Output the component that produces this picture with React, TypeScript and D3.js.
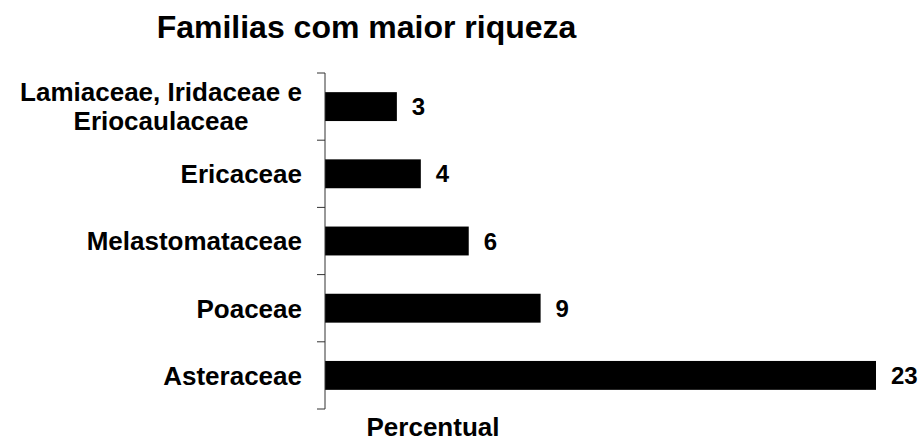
import React from "react";
import * as d3 from "d3";

const categories: string[][] = [
  ["Lamiaceae, Iridaceae e", "Eriocaulaceae"],
  ["Ericaceae"],
  ["Melastomataceae"],
  ["Poaceae"],
  ["Asteraceae"],
];
const values: number[] = [3, 4, 6, 9, 23];
const title = "Familias com maior riqueza";
const xTitle = "Percentual";

const W = 918;
const H = 443;
const FONT = "'Liberation Sans', Arial, Helvetica, sans-serif";

export default function App() {
  const axisX = 325;
  const top = 73;
  const bottom = 409;
  const idx = categories.map((_, i) => i);
  const y = d3.scaleBand<number>().domain(idx).range([top, bottom]).padding(0);
  const x = d3.scaleLinear().domain([0, 23]).range([axisX, 876]);
  const bw = y.bandwidth();
  const barH = bw * 0.43;
  const tickYs = [...idx.map((i) => y(i)!), bottom];

  return (
    <svg
      width={W}
      height={H}
      style={{ position: "absolute", left: 0, top: 0, background: "#fff" }}
      fontFamily={FONT}
      fontWeight="bold"
    >
      <text x={366.5} y={38} textAnchor="middle" fontSize={32} fill="#000">
        {title}
      </text>
      {idx.map((i) => {
        const cy = y(i)! + bw / 2;
        const multi = categories[i].length > 1;
        const lx = multi ? 161 : 302;
        return (
          <g key={i}>
            <rect
              x={x(0)}
              y={cy - barH / 2}
              width={x(values[i]) - x(0)}
              height={barH}
              fill="#000"
            />
            <text
              x={x(values[i]) + 15}
              y={cy}
              dy="0.36em"
              fontSize={24}
              fill="#000"
            >
              {values[i]}
            </text>
            <text x={lx} textAnchor={multi ? "middle" : "end"} fontSize={26} fill="#000">
              {categories[i].map((line, k) => (
                <tspan
                  key={k}
                  x={lx}
                  y={cy + 9.3 + (k - (categories[i].length - 1) / 2) * 29}
                >
                  {line}
                </tspan>
              ))}
            </text>
          </g>
        );
      })}
      <line x1={axisX} x2={axisX} y1={top} y2={bottom} stroke="#333" strokeWidth={1} />
      {tickYs.map((ty, k) => (
        <line key={k} x1={axisX - 8} x2={axisX} y1={ty} y2={ty} stroke="#333" strokeWidth={1} />
      ))}
      <text x={433} y={436} textAnchor="middle" fontSize={26} fill="#000">
        {xTitle}
      </text>
    </svg>
  );
}
